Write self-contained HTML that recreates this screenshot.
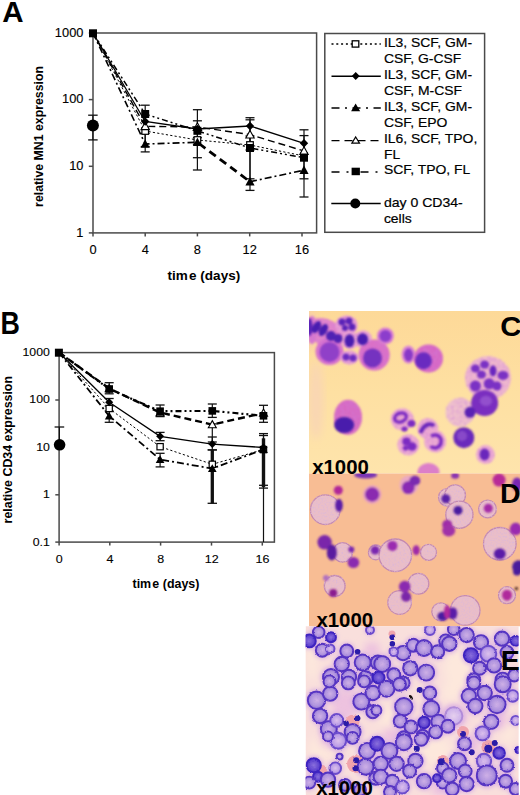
<!DOCTYPE html><html><head><meta charset="utf-8"><style>
html,body{margin:0;padding:0;background:#fff;}body{width:520px;height:795px;overflow:hidden;}
svg{display:block;font-family:"Liberation Sans",sans-serif;}
</style></head><body>
<svg width="520" height="795" viewBox="0 0 520 795">
<defs>
<clipPath id="clipC"><rect x="309" y="311" width="211" height="162.5"/></clipPath>
<clipPath id="clipD"><rect x="309" y="473.5" width="211" height="152.7"/></clipPath>
<clipPath id="clipE"><rect x="305.6" y="626.2" width="213" height="168.8"/></clipPath>
<filter id="blur1" x="-5%" y="-5%" width="110%" height="110%"><feGaussianBlur stdDeviation="0.9"/></filter>
<radialGradient id="gE0"><stop offset="0" stop-color="#ceb0e6"/><stop offset="0.65" stop-color="#b094de"/><stop offset="1" stop-color="#9072d4"/></radialGradient>
<radialGradient id="gE1"><stop offset="0" stop-color="#8a70dc"/><stop offset="0.7" stop-color="#6246d0"/><stop offset="1" stop-color="#4a2ec4"/></radialGradient>
<radialGradient id="gE2"><stop offset="0" stop-color="#dcc0ec"/><stop offset="0.7" stop-color="#bc9ee6"/><stop offset="1" stop-color="#9474dc"/></radialGradient>
<radialGradient id="gE3"><stop offset="0" stop-color="#e6d0ee"/><stop offset="1" stop-color="#c8acea"/></radialGradient>
<linearGradient id="gCbg" x1="0" y1="0" x2="0" y2="1"><stop offset="0" stop-color="#fdd998"/><stop offset="0.5" stop-color="#fee0a2"/><stop offset="1" stop-color="#fee4ac"/></linearGradient>
<filter id="blurE" x="-5%" y="-5%" width="110%" height="110%"><feTurbulence type="fractalNoise" baseFrequency="0.35" numOctaves="2" seed="3" result="n"/><feDisplacementMap in="SourceGraphic" in2="n" scale="2.2" xChannelSelector="R" yChannelSelector="G" result="d"/><feGaussianBlur in="d" stdDeviation="0.65"/></filter>
<filter id="texD" x="-5%" y="-5%" width="110%" height="110%"><feTurbulence type="fractalNoise" baseFrequency="0.55" numOctaves="2" seed="7" result="n"/><feColorMatrix in="n" type="matrix" values="0 0 0 0 0.72  0 0 0 0 0.48  0 0 0 0 0.68  2.6 0 0 0 -1.25" result="c"/><feComposite in="c" in2="SourceAlpha" operator="in" result="t"/><feMerge result="m"><feMergeNode in="SourceGraphic"/><feMergeNode in="t"/></feMerge><feGaussianBlur in="m" stdDeviation="0.7"/></filter>
<filter id="blur2" x="-10%" y="-10%" width="120%" height="120%"><feGaussianBlur stdDeviation="2.2"/></filter>
<filter id="texC" x="-5%" y="-5%" width="110%" height="110%"><feTurbulence type="fractalNoise" baseFrequency="0.6" numOctaves="2" seed="11" result="n"/><feColorMatrix in="n" type="matrix" values="0 0 0 0 0.62  0 0 0 0 0.2  0 0 0 0 0.7  2.8 0 0 0 -1.25" result="c"/><feComposite in="c" in2="SourceAlpha" operator="in" result="t"/><feMerge result="m"><feMergeNode in="SourceGraphic"/><feMergeNode in="t"/></feMerge><feGaussianBlur in="m" stdDeviation="0.8"/></filter>
<filter id="blur3" x="-20%" y="-20%" width="140%" height="140%"><feGaussianBlur stdDeviation="4"/></filter>
</defs>
<rect width="520" height="795" fill="#fff"/>
<text x="2.2" y="21.9" font-size="29.5" font-weight="bold" text-anchor="start" fill="#000" >A</text>
<text transform="translate(0.6 333.7) scale(0.88 1)" font-size="30.5" font-weight="bold" text-anchor="start" fill="#000" >B</text>
<rect x="93.0" y="33.0" width="223.6" height="199.9" fill="none" stroke="#4a4a4a" stroke-width="1.5"/>
<line x1="88.8" y1="33" x2="93" y2="33" stroke="#4a4a4a" stroke-width="1.5" />
<text transform="translate(83.4 36.6) scale(1.07 1)" font-size="12" font-weight="normal" text-anchor="end" fill="#000" stroke="#000" stroke-width="0.12" >1000</text>
<line x1="88.8" y1="99.6" x2="93" y2="99.6" stroke="#4a4a4a" stroke-width="1.5" />
<text transform="translate(83.4 103.2) scale(1.07 1)" font-size="12" font-weight="normal" text-anchor="end" fill="#000" stroke="#000" stroke-width="0.12" >100</text>
<line x1="88.8" y1="166.3" x2="93" y2="166.3" stroke="#4a4a4a" stroke-width="1.5" />
<text transform="translate(83.4 169.9) scale(1.07 1)" font-size="12" font-weight="normal" text-anchor="end" fill="#000" stroke="#000" stroke-width="0.12" >10</text>
<line x1="88.8" y1="232.9" x2="93" y2="232.9" stroke="#4a4a4a" stroke-width="1.5" />
<text transform="translate(83.4 236.5) scale(1.07 1)" font-size="12" font-weight="normal" text-anchor="end" fill="#000" stroke="#000" stroke-width="0.12" >1</text>
<line x1="93" y1="232.9" x2="93" y2="236.4" stroke="#4a4a4a" stroke-width="1.5" />
<text transform="translate(93 253.9) scale(1.07 1)" font-size="12" font-weight="normal" text-anchor="middle" fill="#000" stroke="#000" stroke-width="0.12" >0</text>
<line x1="145.2" y1="232.9" x2="145.2" y2="236.4" stroke="#4a4a4a" stroke-width="1.5" />
<text transform="translate(145.2 253.9) scale(1.07 1)" font-size="12" font-weight="normal" text-anchor="middle" fill="#000" stroke="#000" stroke-width="0.12" >4</text>
<line x1="197.4" y1="232.9" x2="197.4" y2="236.4" stroke="#4a4a4a" stroke-width="1.5" />
<text transform="translate(197.4 253.9) scale(1.07 1)" font-size="12" font-weight="normal" text-anchor="middle" fill="#000" stroke="#000" stroke-width="0.12" >8</text>
<line x1="249.7" y1="232.9" x2="249.7" y2="236.4" stroke="#4a4a4a" stroke-width="1.5" />
<text transform="translate(249.7 253.9) scale(1.07 1)" font-size="12" font-weight="normal" text-anchor="middle" fill="#000" stroke="#000" stroke-width="0.12" >12</text>
<line x1="302" y1="232.9" x2="302" y2="236.4" stroke="#4a4a4a" stroke-width="1.5" />
<text transform="translate(302 253.9) scale(1.07 1)" font-size="12" font-weight="normal" text-anchor="middle" fill="#000" stroke="#000" stroke-width="0.12" >16</text>
<text transform="translate(167.6 280.3) scale(1.04 1)" font-size="13" font-weight="bold">tim<tspan dx="1.2">e (days)</tspan></text>
<text transform="translate(43.3 136.5) rotate(-90)" x="0" y="0" font-size="12.3" font-weight="bold" text-anchor="middle">relative MN1 expression</text>
<line x1="145.2" y1="105.2" x2="145.2" y2="151.9" stroke="#111" stroke-width="1.2" />
<line x1="140.7" y1="105.2" x2="149.7" y2="105.2" stroke="#111" stroke-width="1.3" />
<line x1="140.7" y1="151.9" x2="149.7" y2="151.9" stroke="#111" stroke-width="1.3" />
<line x1="145.2" y1="133.4" x2="145.2" y2="146.6" stroke="#111" stroke-width="1.2" />
<line x1="140.7" y1="133.4" x2="149.7" y2="133.4" stroke="#111" stroke-width="1.3" />
<line x1="140.7" y1="146.6" x2="149.7" y2="146.6" stroke="#111" stroke-width="1.3" />
<line x1="197.4" y1="109.7" x2="197.4" y2="170" stroke="#111" stroke-width="1.2" />
<line x1="192.9" y1="109.7" x2="201.9" y2="109.7" stroke="#111" stroke-width="1.3" />
<line x1="192.9" y1="170" x2="201.9" y2="170" stroke="#111" stroke-width="1.3" />
<line x1="197.4" y1="120.8" x2="197.4" y2="157.7" stroke="#111" stroke-width="1.2" />
<line x1="192.9" y1="120.8" x2="201.9" y2="120.8" stroke="#111" stroke-width="1.3" />
<line x1="192.9" y1="157.7" x2="201.9" y2="157.7" stroke="#111" stroke-width="1.3" />
<line x1="197.4" y1="137.7" x2="197.4" y2="144.6" stroke="#111" stroke-width="1.2" />
<line x1="192.9" y1="137.7" x2="201.9" y2="137.7" stroke="#111" stroke-width="1.3" />
<line x1="192.9" y1="144.6" x2="201.9" y2="144.6" stroke="#111" stroke-width="1.3" />
<line x1="250" y1="117.7" x2="250" y2="190.4" stroke="#111" stroke-width="1.2" />
<line x1="245.5" y1="117.7" x2="254.5" y2="117.7" stroke="#111" stroke-width="1.3" />
<line x1="245.5" y1="190.4" x2="254.5" y2="190.4" stroke="#111" stroke-width="1.3" />
<line x1="250" y1="119.8" x2="250" y2="178.8" stroke="#111" stroke-width="1.2" />
<line x1="245.5" y1="119.8" x2="254.5" y2="119.8" stroke="#111" stroke-width="1.3" />
<line x1="245.5" y1="178.8" x2="254.5" y2="178.8" stroke="#111" stroke-width="1.3" />
<line x1="250" y1="136" x2="250" y2="150" stroke="#111" stroke-width="1.2" />
<line x1="245.5" y1="136" x2="254.5" y2="136" stroke="#111" stroke-width="1.3" />
<line x1="245.5" y1="150" x2="254.5" y2="150" stroke="#111" stroke-width="1.3" />
<line x1="304" y1="129.8" x2="304" y2="197" stroke="#111" stroke-width="1.2" />
<line x1="299.5" y1="129.8" x2="308.5" y2="129.8" stroke="#111" stroke-width="1.3" />
<line x1="299.5" y1="197" x2="308.5" y2="197" stroke="#111" stroke-width="1.3" />
<line x1="304" y1="135.6" x2="304" y2="178.8" stroke="#111" stroke-width="1.2" />
<line x1="299.5" y1="135.6" x2="308.5" y2="135.6" stroke="#111" stroke-width="1.3" />
<line x1="299.5" y1="178.8" x2="308.5" y2="178.8" stroke="#111" stroke-width="1.3" />
<polyline points="93,33 145.2,131 197.4,140 250,145 304,156" fill="none" stroke="#000" stroke-width="1.0" stroke-dasharray="2.2 2.2"/>
<polyline points="93,33 145.2,126.3 197.4,127 250,134.6 304,151" fill="none" stroke="#000" stroke-width="1.4" stroke-dasharray="7 4"/>
<polyline points="93,33 145.2,144 197.4,142.3" fill="none" stroke="#000" stroke-width="1.6" stroke-dasharray="7 3 2 3"/>
<polyline points="250,181.7 304,170.2" fill="none" stroke="#000" stroke-width="1.6" stroke-dasharray="7 3 2 3"/>
<line x1="199" y1="143.5" x2="249" y2="181" stroke="#000" stroke-width="2.8" stroke-dasharray="8 5"/>
<polyline points="93,33 145.2,114 197.4,130.8 250,148 304,157.7" fill="none" stroke="#000" stroke-width="1.5" stroke-dasharray="6 3 2 3 2 3"/>
<polyline points="93,33 145.2,121.5 197.4,129 250,126 304,143.3" fill="none" stroke="#000" stroke-width="1.3"/>
<rect x="141.9" y="127.7" width="6.6" height="6.6" fill="#fff" stroke="#000" stroke-width="1.2"/>
<rect x="194.1" y="136.7" width="6.6" height="6.6" fill="#fff" stroke="#000" stroke-width="1.2"/>
<rect x="246.7" y="141.7" width="6.6" height="6.6" fill="#fff" stroke="#000" stroke-width="1.2"/>
<rect x="300.7" y="152.7" width="6.6" height="6.6" fill="#fff" stroke="#000" stroke-width="1.2"/>
<path d="M145.2 122.1L149.4 129.66L141 129.66Z" fill="#fff" stroke="#000" stroke-width="1.1"/>
<path d="M197.4 122.8L201.6 130.36L193.2 130.36Z" fill="#fff" stroke="#000" stroke-width="1.1"/>
<path d="M250 130.4L254.2 137.96L245.8 137.96Z" fill="#fff" stroke="#000" stroke-width="1.1"/>
<path d="M304 146.8L308.2 154.36L299.8 154.36Z" fill="#fff" stroke="#000" stroke-width="1.1"/>
<path d="M145.2 139.4L149.8 147.68L140.6 147.68Z" fill="#000"/>
<path d="M197.4 137.7L202 145.98L192.8 145.98Z" fill="#000"/>
<path d="M250 177.1L254.6 185.38L245.4 185.38Z" fill="#000"/>
<path d="M304 165.6L308.6 173.88L299.4 173.88Z" fill="#000"/>
<rect x="141.2" y="110" width="8" height="8" fill="#000"/>
<rect x="193.4" y="126.8" width="8" height="8" fill="#000"/>
<rect x="246" y="144" width="8" height="8" fill="#000"/>
<rect x="300" y="153.7" width="8" height="8" fill="#000"/>
<path d="M145.2 117.3L149.4 121.5L145.2 125.7L141 121.5Z" fill="#000"/>
<path d="M197.4 124.8L201.6 129L197.4 133.2L193.2 129Z" fill="#000"/>
<path d="M250 121.8L254.2 126L250 130.2L245.8 126Z" fill="#000"/>
<path d="M304 139.1L308.2 143.3L304 147.5L299.8 143.3Z" fill="#000"/>
<rect x="89" y="29.3" width="8" height="8" fill="#000"/>
<line x1="92.9" y1="115.2" x2="92.9" y2="139.9" stroke="#111" stroke-width="1.2" />
<line x1="88.15" y1="115.2" x2="97.65" y2="115.2" stroke="#111" stroke-width="1.3" />
<line x1="88.15" y1="139.9" x2="97.65" y2="139.9" stroke="#111" stroke-width="1.3" />
<circle cx="92.9" cy="125.4" r="6" fill="#000"/>
<rect x="324.8" y="33.5" width="159.8" height="198.8" fill="#fff" stroke="#4a4a4a" stroke-width="1.5"/>
<line x1="331.5" y1="44.0" x2="380.8" y2="44.0" stroke="#000" stroke-width="1.4" stroke-dasharray="2 2.8"/>
<text transform="translate(383.9 46.7) scale(1.04 1)" font-size="13.4" font-weight="normal" text-anchor="start" fill="#000" stroke="#000" stroke-width="0.2" >IL3, SCF, GM-</text>
<text transform="translate(383.9 63) scale(1.04 1)" font-size="13.4" font-weight="normal" text-anchor="start" fill="#000" stroke="#000" stroke-width="0.2" >CSF, G-CSF</text>
<line x1="331.5" y1="76.2" x2="380.8" y2="76.2" stroke="#000" stroke-width="1.4"/>
<text transform="translate(383.9 79.1) scale(1.04 1)" font-size="13.4" font-weight="normal" text-anchor="start" fill="#000" stroke="#000" stroke-width="0.2" >IL3, SCF, GM-</text>
<text transform="translate(383.9 95.2) scale(1.04 1)" font-size="13.4" font-weight="normal" text-anchor="start" fill="#000" stroke="#000" stroke-width="0.2" >CSF, M-CSF</text>
<line x1="331.5" y1="108.0" x2="380.8" y2="108.0" stroke="#000" stroke-width="1.4" stroke-dasharray="8 5.5 2 5.5"/>
<text transform="translate(383.9 111.1) scale(1.04 1)" font-size="13.4" font-weight="normal" text-anchor="start" fill="#000" stroke="#000" stroke-width="0.2" >IL3, SCF, GM-</text>
<text transform="translate(383.9 127.2) scale(1.04 1)" font-size="13.4" font-weight="normal" text-anchor="start" fill="#000" stroke="#000" stroke-width="0.2" >CSF, EPO</text>
<line x1="331.5" y1="140.6" x2="380.8" y2="140.6" stroke="#000" stroke-width="1.4" stroke-dasharray="8 5"/>
<text transform="translate(383.9 142.8) scale(1.04 1)" font-size="13.4" font-weight="normal" text-anchor="start" fill="#000" stroke="#000" stroke-width="0.2" >IL6, SCF, TPO,</text>
<text transform="translate(383.9 159.4) scale(1.04 1)" font-size="13.4" font-weight="normal" text-anchor="start" fill="#000" stroke="#000" stroke-width="0.2" >FL</text>
<line x1="331.5" y1="172.0" x2="380.8" y2="172.0" stroke="#000" stroke-width="1.4" stroke-dasharray="8 7 2 5 2 5"/>
<text transform="translate(383.9 174.3) scale(1.04 1)" font-size="13.4" font-weight="normal" text-anchor="start" fill="#000" stroke="#000" stroke-width="0.2" >SCF, TPO, FL</text>
<rect x="352.2" y="40.8" width="6.6" height="6.3" fill="#fff" stroke="#000" stroke-width="1.3"/>
<path d="M355.7 72.1L359.7 76.1L355.7 80L351.8 76.1Z" fill="#000"/>
<path d="M355.6 103.4L360.2 111.2L351.1 111.2Z" fill="#000"/>
<path d="M355.7 137L359.5 143.1L351.9 143.1Z" fill="#fff" stroke="#000" stroke-width="1.2"/>
<rect x="351.6" y="167.7" width="8.3" height="7.5" fill="#000"/>
<line x1="331.3" y1="203.5" x2="380.7" y2="203.5" stroke="#000" stroke-width="1.4"/>
<circle cx="355.3" cy="203.5" r="5" fill="#000"/>
<text transform="translate(383.9 207) scale(1.05 1)" font-size="13.4" font-weight="normal" text-anchor="start" fill="#000" stroke="#000" stroke-width="0.2" >day 0 CD34-</text>
<text transform="translate(383.9 223) scale(1.04 1)" font-size="13.4" font-weight="normal" text-anchor="start" fill="#000" stroke="#000" stroke-width="0.2" >cells</text>
<rect x="59.1" y="352.6" width="215.3" height="189.5" fill="none" stroke="#4a4a4a" stroke-width="1.5"/>
<line x1="55.3" y1="352.6" x2="59.1" y2="352.6" stroke="#4a4a4a" stroke-width="1.5" />
<text transform="translate(49.8 356) scale(1.06 1)" font-size="11.6" font-weight="normal" text-anchor="end" fill="#000" stroke="#000" stroke-width="0.12" >1000</text>
<line x1="55.3" y1="400" x2="59.1" y2="400" stroke="#4a4a4a" stroke-width="1.5" />
<text transform="translate(49.8 403.4) scale(1.06 1)" font-size="11.6" font-weight="normal" text-anchor="end" fill="#000" stroke="#000" stroke-width="0.12" >100</text>
<line x1="55.3" y1="447.4" x2="59.1" y2="447.4" stroke="#4a4a4a" stroke-width="1.5" />
<text transform="translate(49.8 450.8) scale(1.06 1)" font-size="11.6" font-weight="normal" text-anchor="end" fill="#000" stroke="#000" stroke-width="0.12" >10</text>
<line x1="55.3" y1="494.8" x2="59.1" y2="494.8" stroke="#4a4a4a" stroke-width="1.5" />
<text transform="translate(49.8 498.2) scale(1.06 1)" font-size="11.6" font-weight="normal" text-anchor="end" fill="#000" stroke="#000" stroke-width="0.12" >1</text>
<line x1="55.3" y1="542.1" x2="59.1" y2="542.1" stroke="#4a4a4a" stroke-width="1.5" />
<text transform="translate(49.8 545.5) scale(1.06 1)" font-size="11.6" font-weight="normal" text-anchor="end" fill="#000" stroke="#000" stroke-width="0.12" >0.1</text>
<line x1="59.1" y1="542.1" x2="59.1" y2="545.6" stroke="#4a4a4a" stroke-width="1.5" />
<text transform="translate(59.3 563.4) scale(1.06 1)" font-size="11.8" font-weight="normal" text-anchor="middle" fill="#000" stroke="#000" stroke-width="0.12" >0</text>
<line x1="109.8" y1="542.1" x2="109.8" y2="545.6" stroke="#4a4a4a" stroke-width="1.5" />
<text transform="translate(110 563.4) scale(1.06 1)" font-size="11.8" font-weight="normal" text-anchor="middle" fill="#000" stroke="#000" stroke-width="0.12" >4</text>
<line x1="160.6" y1="542.1" x2="160.6" y2="545.6" stroke="#4a4a4a" stroke-width="1.5" />
<text transform="translate(160.8 563.4) scale(1.06 1)" font-size="11.8" font-weight="normal" text-anchor="middle" fill="#000" stroke="#000" stroke-width="0.12" >8</text>
<line x1="211.5" y1="542.1" x2="211.5" y2="545.6" stroke="#4a4a4a" stroke-width="1.5" />
<text transform="translate(211.7 563.4) scale(1.06 1)" font-size="11.8" font-weight="normal" text-anchor="middle" fill="#000" stroke="#000" stroke-width="0.12" >12</text>
<line x1="262.3" y1="542.1" x2="262.3" y2="545.6" stroke="#4a4a4a" stroke-width="1.5" />
<text transform="translate(262.5 563.4) scale(1.06 1)" font-size="11.8" font-weight="normal" text-anchor="middle" fill="#000" stroke="#000" stroke-width="0.12" >16</text>
<text transform="translate(132.5 588.2) scale(1.02 1)" font-size="12.2" font-weight="bold">tim<tspan dx="1.2">e (days)</tspan></text>
<text transform="translate(12.1 449.7) rotate(-90)" x="0" y="0" font-size="12.4" font-weight="bold" text-anchor="middle">relative CD34 expression</text>
<line x1="109.2" y1="382.7" x2="109.2" y2="393.8" stroke="#111" stroke-width="1.2" />
<line x1="104.7" y1="382.7" x2="113.7" y2="382.7" stroke="#111" stroke-width="1.3" />
<line x1="104.7" y1="393.8" x2="113.7" y2="393.8" stroke="#111" stroke-width="1.3" />
<line x1="109.2" y1="398.5" x2="109.2" y2="406" stroke="#111" stroke-width="1.2" />
<line x1="104.7" y1="398.5" x2="113.7" y2="398.5" stroke="#111" stroke-width="1.3" />
<line x1="104.7" y1="406" x2="113.7" y2="406" stroke="#111" stroke-width="1.3" />
<line x1="109.2" y1="411" x2="109.2" y2="422.3" stroke="#111" stroke-width="1.2" />
<line x1="104.7" y1="411" x2="113.7" y2="411" stroke="#111" stroke-width="1.3" />
<line x1="104.7" y1="422.3" x2="113.7" y2="422.3" stroke="#111" stroke-width="1.3" />
<line x1="160.1" y1="405" x2="160.1" y2="416.6" stroke="#111" stroke-width="1.2" />
<line x1="155.6" y1="405" x2="164.6" y2="405" stroke="#111" stroke-width="1.3" />
<line x1="155.6" y1="416.6" x2="164.6" y2="416.6" stroke="#111" stroke-width="1.3" />
<line x1="160.1" y1="432.4" x2="160.1" y2="440.7" stroke="#111" stroke-width="1.2" />
<line x1="155.6" y1="432.4" x2="164.6" y2="432.4" stroke="#111" stroke-width="1.3" />
<line x1="155.6" y1="440.7" x2="164.6" y2="440.7" stroke="#111" stroke-width="1.3" />
<line x1="160.1" y1="453.3" x2="160.1" y2="466.9" stroke="#111" stroke-width="1.2" />
<line x1="155.6" y1="453.3" x2="164.6" y2="453.3" stroke="#111" stroke-width="1.3" />
<line x1="155.6" y1="466.9" x2="164.6" y2="466.9" stroke="#111" stroke-width="1.3" />
<line x1="212.3" y1="404" x2="212.3" y2="417.4" stroke="#111" stroke-width="1.2" />
<line x1="207.8" y1="404" x2="216.8" y2="404" stroke="#111" stroke-width="1.3" />
<line x1="207.8" y1="417.4" x2="216.8" y2="417.4" stroke="#111" stroke-width="1.3" />
<line x1="212.3" y1="423.9" x2="212.3" y2="442" stroke="#111" stroke-width="1.2" />
<line x1="207.8" y1="423.9" x2="216.8" y2="423.9" stroke="#111" stroke-width="1.3" />
<line x1="207.8" y1="442" x2="216.8" y2="442" stroke="#111" stroke-width="1.3" />
<line x1="212.3" y1="437" x2="212.3" y2="449.9" stroke="#111" stroke-width="1.2" />
<line x1="207.8" y1="437" x2="216.8" y2="437" stroke="#111" stroke-width="1.3" />
<line x1="207.8" y1="449.9" x2="216.8" y2="449.9" stroke="#111" stroke-width="1.3" />
<line x1="263.5" y1="405.3" x2="263.5" y2="422.3" stroke="#111" stroke-width="1.2" />
<line x1="259" y1="405.3" x2="268" y2="405.3" stroke="#111" stroke-width="1.3" />
<line x1="259" y1="422.3" x2="268" y2="422.3" stroke="#111" stroke-width="1.3" />
<line x1="263.5" y1="433.6" x2="263.5" y2="488.1" stroke="#111" stroke-width="1.2" />
<line x1="259" y1="433.6" x2="268" y2="433.6" stroke="#111" stroke-width="1.3" />
<line x1="259" y1="488.1" x2="268" y2="488.1" stroke="#111" stroke-width="1.3" />
<line x1="263.5" y1="435.5" x2="263.5" y2="485.3" stroke="#111" stroke-width="1.2" />
<line x1="259" y1="435.5" x2="268" y2="435.5" stroke="#111" stroke-width="1.3" />
<line x1="259" y1="485.3" x2="268" y2="485.3" stroke="#111" stroke-width="1.3" />
<line x1="212.3" y1="449.9" x2="212.3" y2="503.3" stroke="#111" stroke-width="3.3" />
<line x1="207.6" y1="449.9" x2="217" y2="449.9" stroke="#111" stroke-width="1.3" />
<line x1="207.6" y1="503.3" x2="217" y2="503.3" stroke="#111" stroke-width="1.3" />
<line x1="263.5" y1="438.3" x2="263.5" y2="487.2" stroke="#111" stroke-width="3.4" />
<line x1="263.5" y1="488" x2="263.5" y2="542.1" stroke="#111" stroke-width="1.2" />
<polyline points="59,352.5 109.2,408.5 160.1,446.7 212.3,464.3 263.5,449.6" fill="none" stroke="#000" stroke-width="1.0" stroke-dasharray="2.2 2.2"/>
<polyline points="59,352.5 109.2,388.5 160.1,412.5 212.3,424.6 263.5,413" fill="none" stroke="#000" stroke-width="2.4" stroke-dasharray="7 4"/>
<polyline points="59,352.5 109.2,416 160.1,459.5 212.3,468.6 263.5,449.4" fill="none" stroke="#000" stroke-width="1.8" stroke-dasharray="7 3 2 3"/>
<polyline points="59,352.5 109.2,389 160.1,411.2 212.3,410.9 263.5,415.8" fill="none" stroke="#000" stroke-width="2.1" stroke-dasharray="6 3 2 3 2 3"/>
<polyline points="59,352.5 109.2,402.3 160.1,436.3 212.3,444.1 263.5,447.5" fill="none" stroke="#000" stroke-width="1.3"/>
<rect x="106.06" y="405.37" width="6.27" height="6.27" fill="#fff" stroke="#000" stroke-width="1.2"/>
<rect x="156.97" y="443.56" width="6.27" height="6.27" fill="#fff" stroke="#000" stroke-width="1.2"/>
<rect x="209.17" y="461.17" width="6.27" height="6.27" fill="#fff" stroke="#000" stroke-width="1.2"/>
<rect x="260.37" y="446.47" width="6.27" height="6.27" fill="#fff" stroke="#000" stroke-width="1.2"/>
<path d="M109.2 384.51L113.19 391.69L105.21 391.69Z" fill="#fff" stroke="#000" stroke-width="1.1"/>
<path d="M160.1 408.51L164.09 415.69L156.11 415.69Z" fill="#fff" stroke="#000" stroke-width="1.1"/>
<path d="M212.3 420.61L216.29 427.79L208.31 427.79Z" fill="#fff" stroke="#000" stroke-width="1.1"/>
<path d="M263.5 409.01L267.49 416.19L259.51 416.19Z" fill="#fff" stroke="#000" stroke-width="1.1"/>
<path d="M109.2 411.63L113.57 419.5L104.83 419.5Z" fill="#000"/>
<path d="M160.1 455.13L164.47 463L155.73 463Z" fill="#000"/>
<path d="M212.3 464.23L216.67 472.1L207.93 472.1Z" fill="#000"/>
<path d="M263.5 445.03L267.87 452.9L259.13 452.9Z" fill="#000"/>
<rect x="105.4" y="385.2" width="7.6" height="7.6" fill="#000"/>
<rect x="156.3" y="407.4" width="7.6" height="7.6" fill="#000"/>
<rect x="208.5" y="407.1" width="7.6" height="7.6" fill="#000"/>
<rect x="259.7" y="412" width="7.6" height="7.6" fill="#000"/>
<path d="M109.2 398.31L113.19 402.3L109.2 406.29L105.21 402.3Z" fill="#000"/>
<path d="M160.1 432.31L164.09 436.3L160.1 440.29L156.11 436.3Z" fill="#000"/>
<path d="M212.3 440.11L216.29 444.1L212.3 448.09L208.31 444.1Z" fill="#000"/>
<path d="M263.5 443.51L267.49 447.5L263.5 451.49L259.51 447.5Z" fill="#000"/>
<rect x="54.9" y="348.7" width="8" height="8" fill="#000"/>
<line x1="59.4" y1="427" x2="59.4" y2="444" stroke="#111" stroke-width="1.2" />
<line x1="54.6" y1="427" x2="64.2" y2="427" stroke="#111" stroke-width="1.3" />
<circle cx="59.6" cy="444.8" r="5.8" fill="#000"/>
<g clip-path="url(#clipC)">
<rect x="309" y="311" width="211" height="163" fill="url(#gCbg)"/>
<g filter="url(#blur3)">
<ellipse cx="316" cy="400" rx="7" ry="40" fill="#f9d6b4"/>
<ellipse cx="309" cy="330" rx="6" ry="20" fill="#f5c8b0"/>
</g>
<g filter="url(#texC)">
<ellipse cx="326" cy="333" rx="19" ry="13.5" fill="#e486c8" transform="rotate(30 326 333)"/>
<ellipse cx="346.5" cy="325.4" rx="11" ry="10" fill="#eca0d2"/>
<ellipse cx="350" cy="340" rx="9" ry="9" fill="#eea8d2"/>
<ellipse cx="363" cy="339.2" rx="9" ry="9" fill="#eea8d2"/>
<ellipse cx="329.5" cy="351.5" rx="14" ry="13.5" fill="#d870cc"/>
<ellipse cx="349.5" cy="357.5" rx="9" ry="7" fill="#eaa4d4"/>
<ellipse cx="374.2" cy="355" rx="15.5" ry="15.5" fill="#dc6ec4"/>
<ellipse cx="385.4" cy="336" rx="8.5" ry="8.5" fill="#de82d0"/>
<ellipse cx="408.5" cy="354.6" rx="7" ry="9" fill="#e08cd0"/>
<ellipse cx="428.5" cy="358.5" rx="14.5" ry="14" fill="#d866c2"/>
<ellipse cx="488" cy="378" rx="23" ry="22" fill="#f2bccc"/>
<ellipse cx="460" cy="412.3" rx="14.5" ry="14.5" fill="#f2c6ca"/>
<ellipse cx="402.2" cy="419.2" rx="11.5" ry="11" fill="#f0b0d0"/>
<ellipse cx="408.3" cy="444.8" rx="11" ry="10.5" fill="#f0b0d0"/>
<ellipse cx="427.8" cy="428.6" rx="10.5" ry="10.5" fill="#f0b0d0"/>
<ellipse cx="435.2" cy="441.5" rx="11" ry="11" fill="#f0b0d0"/>
<ellipse cx="485.4" cy="454.6" rx="9.5" ry="9.5" fill="#f0b0d0"/>
<ellipse cx="348" cy="417.3" rx="14" ry="17.5" fill="#d868c0"/>
<ellipse cx="428.5" cy="472" rx="11" ry="9" fill="#e080c4"/>
<ellipse cx="312" cy="330" rx="5" ry="14" fill="#d878cc"/>
</g>
<g filter="url(#blur1)">
<ellipse cx="309.5" cy="327" rx="3" ry="9" fill="#5a22b8"/>
<ellipse cx="316.5" cy="327" rx="3.8" ry="6.5" fill="#4a1cb0" transform="rotate(30 316.5 327)"/>
<ellipse cx="323.4" cy="330" rx="3.8" ry="6.5" fill="#4a1cb0" transform="rotate(30 323.4 330)"/>
<ellipse cx="331" cy="336" rx="5" ry="5" fill="#5020b4"/>
<ellipse cx="338" cy="338.5" rx="4.5" ry="4.5" fill="#5020b4"/>
<ellipse cx="342" cy="322" rx="3.5" ry="3.5" fill="#5a24b8"/>
<ellipse cx="349" cy="321" rx="3.5" ry="3.5" fill="#5a24b8"/>
<ellipse cx="352" cy="327" rx="3.5" ry="3.5" fill="#5a24b8"/>
<ellipse cx="345" cy="328" rx="3" ry="3" fill="#5a24b8"/>
<ellipse cx="349.5" cy="340.8" rx="5" ry="6.5" fill="#4a1cb0"/>
<ellipse cx="362.6" cy="339.2" rx="5.5" ry="6" fill="#4a1cb0"/>
<ellipse cx="329.5" cy="352" rx="10" ry="10" fill="#9040c8"/>
<ellipse cx="346" cy="357" rx="3.5" ry="3.5" fill="#6a2cc0"/>
<ellipse cx="353" cy="358" rx="3.5" ry="3.5" fill="#6a2cc0"/>
<ellipse cx="372.5" cy="358" rx="9.5" ry="9.5" fill="#7430c0"/>
<ellipse cx="385.4" cy="336" rx="6" ry="6" fill="#8c3ecc"/>
<ellipse cx="408.5" cy="355" rx="4.5" ry="6.5" fill="#8838c8"/>
<ellipse cx="423.5" cy="360.8" rx="8.5" ry="8.5" fill="#6a2cc0"/>
<ellipse cx="475.4" cy="368.5" rx="4.5" ry="4" fill="#7a30c4"/>
<ellipse cx="484.6" cy="364.6" rx="4.5" ry="4" fill="#7a30c4"/>
<ellipse cx="481.5" cy="374.6" rx="4.5" ry="4" fill="#7a30c4"/>
<ellipse cx="493" cy="370.8" rx="3.5" ry="5.5" fill="#6a28c0"/>
<ellipse cx="503" cy="375.4" rx="5.5" ry="4.5" fill="#7a30c4"/>
<ellipse cx="475.4" cy="386" rx="5.5" ry="5.5" fill="#7a30c4"/>
<ellipse cx="489.2" cy="383.8" rx="5.5" ry="5.5" fill="#7a30c4"/>
<ellipse cx="497" cy="386" rx="4.5" ry="4.5" fill="#7a30c4"/>
<ellipse cx="484.6" cy="403" rx="13.5" ry="13" fill="#7a2ec0"/>
<ellipse cx="470" cy="412.3" rx="5.5" ry="5.5" fill="#5a22b4"/>
<ellipse cx="463.8" cy="437.7" rx="10.5" ry="10.5" fill="#6a2abc"/>
<ellipse cx="484.6" cy="454.6" rx="5" ry="6" fill="#6a28bc"/>
<ellipse cx="344.2" cy="425" rx="10" ry="8" fill="#4a1eac"/>
<ellipse cx="486" cy="401" rx="6" ry="5" fill="#9a58d0" opacity="0.8"/>
<ellipse cx="462" cy="436" rx="5" ry="5" fill="#9050cc" opacity="0.8"/>
<ellipse cx="400.5" cy="417.5" rx="6" ry="4.3" fill="none" stroke="#7c2ac2" stroke-width="3.4" transform="rotate(-20 400.5 417.5)"/>
<ellipse cx="411.5" cy="423.5" rx="4" ry="3.6" fill="#7c2ac2"/>
<ellipse cx="404.5" cy="429" rx="3" ry="2.6" fill="#7c2ac2"/>
<ellipse cx="406.5" cy="441.5" rx="4.2" ry="4" fill="#7c2ac2"/>
<ellipse cx="412" cy="446.5" rx="4.6" ry="4.2" fill="#7c2ac2"/>
<ellipse cx="405.5" cy="448" rx="2.6" ry="2.6" fill="#7c2ac2"/>
<path d="M420.5 433 Q423 426 428 424.5 Q432 423.5 434 426" fill="none" stroke="#6a26bc" stroke-width="4"/>
<path d="M431 436 Q438 433 441 439 Q442 446 436 448 Q432 448 431 446" fill="none" stroke="#7c2ac2" stroke-width="3.6"/>
</g>
</g>
<g clip-path="url(#clipD)">
<rect x="309" y="473" width="211" height="154" fill="#f8bd94"/>
<g filter="url(#texD)">
<ellipse cx="325.3" cy="509.7" rx="14.8" ry="14.8" fill="#eabec8" stroke="#c48ab0" stroke-width="1.3"/>
<ellipse cx="342.6" cy="552.4" rx="9.8" ry="9.8" fill="#eabec8" stroke="#c48ab0" stroke-width="1.3"/>
<ellipse cx="375.8" cy="552.4" rx="7.4" ry="7.4" fill="#eabec8" stroke="#c48ab0" stroke-width="1.3"/>
<ellipse cx="395.3" cy="555.3" rx="16.3" ry="16.3" fill="#eabec8" stroke="#c48ab0" stroke-width="1.3"/>
<ellipse cx="428.5" cy="552.4" rx="8" ry="8" fill="#eabec8" stroke="#c48ab0" stroke-width="1.3"/>
<ellipse cx="447.2" cy="497.4" rx="8.7" ry="8.7" fill="#eabec8" stroke="#c48ab0" stroke-width="1.3"/>
<ellipse cx="455.1" cy="495.2" rx="10.4" ry="10.4" fill="#eabec8" stroke="#c48ab0" stroke-width="1.3"/>
<ellipse cx="459.4" cy="514.7" rx="13.6" ry="13.6" fill="#eabec8" stroke="#c48ab0" stroke-width="1.3"/>
<ellipse cx="487.5" cy="509" rx="8.9" ry="8.9" fill="#eabec8" stroke="#c48ab0" stroke-width="1.3"/>
<ellipse cx="499.8" cy="543.8" rx="16.3" ry="16.3" fill="#eabec8" stroke="#c48ab0" stroke-width="1.3"/>
<ellipse cx="334.7" cy="585.9" rx="10.4" ry="10.4" fill="#eabec8" stroke="#c48ab0" stroke-width="1.3"/>
<ellipse cx="418.4" cy="583.7" rx="10.4" ry="10.4" fill="#eabec8" stroke="#c48ab0" stroke-width="1.3"/>
<ellipse cx="399.6" cy="602.5" rx="11.8" ry="11.8" fill="#eabec8" stroke="#c48ab0" stroke-width="1.3"/>
<ellipse cx="465.2" cy="610.4" rx="14.8" ry="14.8" fill="#eabec8" stroke="#c48ab0" stroke-width="1.3"/>
<ellipse cx="507" cy="595.2" rx="8.5" ry="8.5" fill="#eabec8" stroke="#c48ab0" stroke-width="1.3"/>
<ellipse cx="440.7" cy="611.8" rx="8.9" ry="8.9" fill="#eabec8" stroke="#c48ab0" stroke-width="1.3"/>
</g>
<g filter="url(#blur1)">
<ellipse cx="372.2" cy="494.5" rx="9.2" ry="9.2" fill="#e8a0c0"/>
<ellipse cx="409" cy="485" rx="9.5" ry="9.5" fill="#eaa8c4"/>
<ellipse cx="338.3" cy="490.2" rx="4.5" ry="4.5" fill="#b0289a"/>
<ellipse cx="372.2" cy="494.5" rx="7.2" ry="7.2" fill="#8a2cb0"/>
<ellipse cx="339" cy="505.3" rx="3.8" ry="6.5" fill="#5a1ea8"/>
<ellipse cx="365.7" cy="475" rx="11.5" ry="3.6" fill="#7a34b4"/>
<ellipse cx="408.3" cy="487.6" rx="6.5" ry="6.5" fill="#8a2cb4"/>
<ellipse cx="414.8" cy="480.8" rx="5.5" ry="5" fill="#7a2cb0"/>
<ellipse cx="445.8" cy="498.8" rx="4.5" ry="4.5" fill="#5a22a8"/>
<ellipse cx="447.2" cy="524.8" rx="5" ry="5" fill="#9a30a8"/>
<ellipse cx="455.1" cy="475.8" rx="4" ry="3" fill="#8a34b0"/>
<ellipse cx="499.1" cy="480.1" rx="6.5" ry="6.5" fill="#b82a98"/>
<ellipse cx="517" cy="484.4" rx="5" ry="7" fill="#7a28b4"/>
<ellipse cx="458" cy="510.4" rx="4.5" ry="4.5" fill="#4a1aa0"/>
<ellipse cx="488.3" cy="508.2" rx="4.5" ry="4.5" fill="#a42ca8"/>
<ellipse cx="447.9" cy="526.3" rx="4" ry="4" fill="#a42ca8"/>
<ellipse cx="515.7" cy="527.7" rx="5" ry="5" fill="#7a28b4"/>
<ellipse cx="324.6" cy="542.3" rx="7.2" ry="7.2" fill="#7a26aa"/>
<ellipse cx="331.8" cy="552.4" rx="5" ry="8" fill="#5a1aa0"/>
<ellipse cx="351.3" cy="549.5" rx="3" ry="3" fill="#7a28b0"/>
<ellipse cx="353.4" cy="562.5" rx="5.8" ry="5.5" fill="#8a2cb0"/>
<ellipse cx="375.1" cy="550.2" rx="4.3" ry="4.3" fill="#7a28b0"/>
<ellipse cx="392.4" cy="545.9" rx="5" ry="5" fill="#9a2ab0"/>
<ellipse cx="416.2" cy="550.2" rx="3.6" ry="5" fill="#a02ca8"/>
<ellipse cx="448.7" cy="530.5" rx="6.5" ry="6" fill="#a030a8"/>
<ellipse cx="499.8" cy="553.8" rx="6" ry="5.5" fill="#5a1ea8"/>
<ellipse cx="515.7" cy="529.3" rx="6" ry="6" fill="#9a2cb0"/>
<ellipse cx="518.6" cy="566.8" rx="6.5" ry="6.5" fill="#4a1c9c"/>
<ellipse cx="333.2" cy="593.1" rx="4" ry="4" fill="#8a1e90"/>
<ellipse cx="326" cy="578" rx="3" ry="3" fill="#b070c0"/>
<ellipse cx="404.7" cy="586.6" rx="5.8" ry="5.8" fill="#8a2cb0"/>
<ellipse cx="406.1" cy="596.7" rx="5" ry="5" fill="#7a26a8"/>
<ellipse cx="442.9" cy="616.2" rx="5.5" ry="4.5" fill="#4a1aa0"/>
<ellipse cx="451.6" cy="613.3" rx="3.6" ry="5.8" fill="#5a1ea8"/>
<ellipse cx="453.7" cy="613.3" rx="3.6" ry="5.8" fill="#5a1ea8"/>
<ellipse cx="507" cy="595.2" rx="5" ry="5.5" fill="#b02a9c"/>
<ellipse cx="516.4" cy="588.5" rx="1.5" ry="1.5" fill="#301010"/>
<ellipse cx="517" cy="571.4" rx="4" ry="4" fill="#4a1c9c"/>
<ellipse cx="447" cy="612" rx="3" ry="7" fill="#b02a9c"/>
</g>
</g>
<g clip-path="url(#clipE)">
<rect x="305.5" y="625.5" width="215" height="170" fill="#f9dfdc"/>
<g filter="url(#blur3)">
<ellipse cx="458" cy="668" rx="14" ry="20" fill="#fde8dc"/>
<ellipse cx="344" cy="705" rx="12" ry="12" fill="#fde8dc"/>
<ellipse cx="322" cy="748" rx="14" ry="12" fill="#fde8dc"/>
<ellipse cx="435" cy="750" rx="16" ry="14" fill="#fde8dc"/>
<ellipse cx="452" cy="692" rx="10" ry="12" fill="#fde8dc"/>
<ellipse cx="508" cy="732" rx="8" ry="12" fill="#fde8dc"/>
<ellipse cx="388" cy="720" rx="8" ry="14" fill="#fde8dc"/>
<ellipse cx="312" cy="660" rx="6" ry="20" fill="#fde8dc"/>
<ellipse cx="345" cy="705" rx="14" ry="16" fill="#e8b8e0" opacity="0.8"/>
<ellipse cx="425" cy="728" rx="12" ry="10" fill="#e8b8e0" opacity="0.8"/>
<ellipse cx="455" cy="716" rx="12" ry="12" fill="#e8b8e0" opacity="0.8"/>
<ellipse cx="470" cy="745" rx="10" ry="10" fill="#e8b8e0" opacity="0.8"/>
<ellipse cx="392" cy="735" rx="10" ry="8" fill="#e8b8e0" opacity="0.8"/>
<ellipse cx="330" cy="740" rx="10" ry="8" fill="#e8b8e0" opacity="0.8"/>
<ellipse cx="500" cy="720" rx="8" ry="10" fill="#e8b8e0" opacity="0.8"/>
<ellipse cx="418" cy="655" rx="10" ry="8" fill="#e8b8e0" opacity="0.8"/>
<ellipse cx="372" cy="650" rx="8" ry="8" fill="#e8b8e0" opacity="0.8"/>
<ellipse cx="440" cy="790" rx="10" ry="6" fill="#e8b8e0" opacity="0.8"/>
</g>
<g filter="url(#blur2)">
<ellipse cx="318.7" cy="632.2" rx="7.54" ry="7.54" fill="#dab2e2"/>
<ellipse cx="309.3" cy="640.9" rx="8.45" ry="8.45" fill="#dab2e2"/>
<ellipse cx="331" cy="637.3" rx="6.5" ry="6.5" fill="#dab2e2"/>
<ellipse cx="322.3" cy="650.2" rx="8.45" ry="8.45" fill="#dab2e2"/>
<ellipse cx="330.2" cy="648.8" rx="5.59" ry="5.59" fill="#dab2e2"/>
<ellipse cx="346.8" cy="651" rx="8.45" ry="8.45" fill="#dab2e2"/>
<ellipse cx="341.8" cy="664" rx="9.36" ry="9.36" fill="#dab2e2"/>
<ellipse cx="362.7" cy="662.5" rx="10.4" ry="10.4" fill="#dab2e2"/>
<ellipse cx="377.8" cy="662.5" rx="9.1" ry="9.1" fill="#dab2e2"/>
<ellipse cx="331" cy="677" rx="10.4" ry="10.4" fill="#dab2e2"/>
<ellipse cx="349" cy="677" rx="9.36" ry="9.36" fill="#dab2e2"/>
<ellipse cx="365.6" cy="678.4" rx="9.36" ry="9.36" fill="#dab2e2"/>
<ellipse cx="403.1" cy="653.1" rx="9.36" ry="9.36" fill="#dab2e2"/>
<ellipse cx="393.8" cy="651.7" rx="5.59" ry="5.59" fill="#dab2e2"/>
<ellipse cx="413.2" cy="645.2" rx="8.45" ry="8.45" fill="#dab2e2"/>
<ellipse cx="424" cy="648" rx="10.4" ry="10.4" fill="#dab2e2"/>
<ellipse cx="437.7" cy="651.7" rx="8.45" ry="8.45" fill="#dab2e2"/>
<ellipse cx="445.7" cy="640.9" rx="8.45" ry="8.45" fill="#dab2e2"/>
<ellipse cx="382.2" cy="664" rx="10.4" ry="10.4" fill="#dab2e2"/>
<ellipse cx="410.3" cy="668.3" rx="9.36" ry="9.36" fill="#dab2e2"/>
<ellipse cx="426.2" cy="672.6" rx="10.4" ry="10.4" fill="#dab2e2"/>
<ellipse cx="393.8" cy="674.8" rx="8.45" ry="8.45" fill="#dab2e2"/>
<ellipse cx="378.6" cy="677.6" rx="7.8" ry="7.8" fill="#dab2e2"/>
<ellipse cx="403.1" cy="683" rx="8.45" ry="8.45" fill="#dab2e2"/>
<ellipse cx="453.7" cy="629.3" rx="7.54" ry="7.54" fill="#dab2e2"/>
<ellipse cx="466.6" cy="635.1" rx="9.36" ry="9.36" fill="#dab2e2"/>
<ellipse cx="449.3" cy="643.8" rx="9.36" ry="9.36" fill="#dab2e2"/>
<ellipse cx="481" cy="642.3" rx="9.36" ry="9.36" fill="#dab2e2"/>
<ellipse cx="502" cy="638.7" rx="9.36" ry="9.36" fill="#dab2e2"/>
<ellipse cx="515.7" cy="640.9" rx="6.5" ry="6.5" fill="#dab2e2"/>
<ellipse cx="471" cy="655.3" rx="9.36" ry="9.36" fill="#dab2e2"/>
<ellipse cx="488.3" cy="653.8" rx="10.4" ry="10.4" fill="#dab2e2"/>
<ellipse cx="507" cy="652.4" rx="8.45" ry="8.45" fill="#dab2e2"/>
<ellipse cx="494" cy="665.4" rx="9.36" ry="9.36" fill="#dab2e2"/>
<ellipse cx="479.6" cy="668.3" rx="8.45" ry="8.45" fill="#dab2e2"/>
<ellipse cx="473.8" cy="679.8" rx="8.45" ry="8.45" fill="#dab2e2"/>
<ellipse cx="502.7" cy="679.8" rx="9.36" ry="9.36" fill="#dab2e2"/>
<ellipse cx="514.2" cy="675.5" rx="7.8" ry="7.8" fill="#dab2e2"/>
<ellipse cx="430" cy="630" rx="6.5" ry="6.5" fill="#dab2e2"/>
<ellipse cx="370" cy="630" rx="5.2" ry="5.2" fill="#dab2e2"/>
<ellipse cx="316.5" cy="700.2" rx="11.31" ry="11.31" fill="#dab2e2"/>
<ellipse cx="330.2" cy="693.7" rx="9.36" ry="9.36" fill="#dab2e2"/>
<ellipse cx="320.1" cy="716" rx="9.36" ry="9.36" fill="#dab2e2"/>
<ellipse cx="328.8" cy="729" rx="10.4" ry="10.4" fill="#dab2e2"/>
<ellipse cx="336.7" cy="720.4" rx="8.45" ry="8.45" fill="#dab2e2"/>
<ellipse cx="348.3" cy="682.9" rx="8.45" ry="8.45" fill="#dab2e2"/>
<ellipse cx="329.5" cy="681.4" rx="7.8" ry="7.8" fill="#dab2e2"/>
<ellipse cx="364.1" cy="681.4" rx="7.8" ry="7.8" fill="#dab2e2"/>
<ellipse cx="361.3" cy="701.6" rx="10.4" ry="10.4" fill="#dab2e2"/>
<ellipse cx="372.8" cy="693" rx="9.36" ry="9.36" fill="#dab2e2"/>
<ellipse cx="372.8" cy="711.7" rx="8.45" ry="8.45" fill="#dab2e2"/>
<ellipse cx="352.6" cy="732" rx="10.4" ry="10.4" fill="#dab2e2"/>
<ellipse cx="386.5" cy="688.7" rx="10.4" ry="10.4" fill="#dab2e2"/>
<ellipse cx="399.5" cy="684.3" rx="8.45" ry="8.45" fill="#dab2e2"/>
<ellipse cx="376.4" cy="710.3" rx="6.5" ry="6.5" fill="#dab2e2"/>
<ellipse cx="403.8" cy="706.7" rx="11.31" ry="11.31" fill="#dab2e2"/>
<ellipse cx="431.3" cy="708.8" rx="10.4" ry="10.4" fill="#dab2e2"/>
<ellipse cx="429.8" cy="693" rx="8.45" ry="8.45" fill="#dab2e2"/>
<ellipse cx="400.2" cy="721.1" rx="8.45" ry="8.45" fill="#dab2e2"/>
<ellipse cx="411" cy="726.9" rx="8.45" ry="8.45" fill="#dab2e2"/>
<ellipse cx="424" cy="722.5" rx="7.54" ry="7.54" fill="#dab2e2"/>
<ellipse cx="438.5" cy="721.8" rx="9.36" ry="9.36" fill="#dab2e2"/>
<ellipse cx="435.6" cy="731.9" rx="8.45" ry="8.45" fill="#dab2e2"/>
<ellipse cx="403.8" cy="737.7" rx="8.45" ry="8.45" fill="#dab2e2"/>
<ellipse cx="422.6" cy="736.3" rx="8.45" ry="8.45" fill="#dab2e2"/>
<ellipse cx="473.8" cy="682.9" rx="8.45" ry="8.45" fill="#dab2e2"/>
<ellipse cx="502.7" cy="684.3" rx="10.4" ry="10.4" fill="#dab2e2"/>
<ellipse cx="468.8" cy="695.9" rx="9.36" ry="9.36" fill="#dab2e2"/>
<ellipse cx="484.7" cy="693" rx="9.36" ry="9.36" fill="#dab2e2"/>
<ellipse cx="475.3" cy="706" rx="9.36" ry="9.36" fill="#dab2e2"/>
<ellipse cx="496.9" cy="704.5" rx="11.31" ry="11.31" fill="#dab2e2"/>
<ellipse cx="512.8" cy="695.9" rx="7.54" ry="7.54" fill="#dab2e2"/>
<ellipse cx="491.2" cy="721.8" rx="9.36" ry="9.36" fill="#dab2e2"/>
<ellipse cx="453.7" cy="716" rx="11.31" ry="11.31" fill="#dab2e2"/>
<ellipse cx="447.9" cy="726.2" rx="8.45" ry="8.45" fill="#dab2e2"/>
<ellipse cx="482.5" cy="733.4" rx="9.1" ry="9.1" fill="#dab2e2"/>
<ellipse cx="515.7" cy="720.4" rx="5.85" ry="5.85" fill="#dab2e2"/>
<ellipse cx="338.2" cy="740.8" rx="10.4" ry="10.4" fill="#dab2e2"/>
<ellipse cx="352.6" cy="737.9" rx="7.8" ry="7.8" fill="#dab2e2"/>
<ellipse cx="328" cy="736.4" rx="6.5" ry="6.5" fill="#dab2e2"/>
<ellipse cx="367" cy="750.9" rx="10.4" ry="10.4" fill="#dab2e2"/>
<ellipse cx="377.1" cy="743.7" rx="9.1" ry="9.1" fill="#dab2e2"/>
<ellipse cx="365.6" cy="766.7" rx="10.4" ry="10.4" fill="#dab2e2"/>
<ellipse cx="375.7" cy="778.3" rx="8.45" ry="8.45" fill="#dab2e2"/>
<ellipse cx="313.7" cy="765.3" rx="9.36" ry="9.36" fill="#dab2e2"/>
<ellipse cx="335.3" cy="768.2" rx="7.54" ry="7.54" fill="#dab2e2"/>
<ellipse cx="318" cy="776.8" rx="6.5" ry="6.5" fill="#dab2e2"/>
<ellipse cx="328" cy="779.7" rx="9.36" ry="9.36" fill="#dab2e2"/>
<ellipse cx="309.3" cy="782.6" rx="7.8" ry="7.8" fill="#dab2e2"/>
<ellipse cx="339.6" cy="756.6" rx="3.9" ry="3.9" fill="#dab2e2"/>
<ellipse cx="389.4" cy="750.9" rx="10.4" ry="10.4" fill="#dab2e2"/>
<ellipse cx="403.8" cy="742.2" rx="10.4" ry="10.4" fill="#dab2e2"/>
<ellipse cx="421.2" cy="739.3" rx="8.45" ry="8.45" fill="#dab2e2"/>
<ellipse cx="380.8" cy="763.8" rx="9.36" ry="9.36" fill="#dab2e2"/>
<ellipse cx="396.6" cy="763.8" rx="9.36" ry="9.36" fill="#dab2e2"/>
<ellipse cx="415.4" cy="761" rx="9.36" ry="9.36" fill="#dab2e2"/>
<ellipse cx="409.6" cy="771" rx="8.45" ry="8.45" fill="#dab2e2"/>
<ellipse cx="380.8" cy="776.8" rx="9.36" ry="9.36" fill="#dab2e2"/>
<ellipse cx="392.3" cy="781.2" rx="8.45" ry="8.45" fill="#dab2e2"/>
<ellipse cx="424" cy="781.2" rx="9.36" ry="9.36" fill="#dab2e2"/>
<ellipse cx="402.4" cy="787" rx="8.45" ry="8.45" fill="#dab2e2"/>
<ellipse cx="442.8" cy="768.2" rx="7.54" ry="7.54" fill="#dab2e2"/>
<ellipse cx="442.8" cy="782.6" rx="7.8" ry="7.8" fill="#dab2e2"/>
<ellipse cx="437" cy="778.3" rx="5.2" ry="5.2" fill="#dab2e2"/>
<ellipse cx="390" cy="792" rx="7.8" ry="7.8" fill="#dab2e2"/>
<ellipse cx="360" cy="790" rx="7.8" ry="7.8" fill="#dab2e2"/>
<ellipse cx="345" cy="785" rx="7.8" ry="7.8" fill="#dab2e2"/>
<ellipse cx="464.5" cy="743.7" rx="8.45" ry="8.45" fill="#dab2e2"/>
<ellipse cx="499.1" cy="753" rx="7.54" ry="7.54" fill="#dab2e2"/>
<ellipse cx="458" cy="761" rx="10.4" ry="10.4" fill="#dab2e2"/>
<ellipse cx="484" cy="761" rx="9.36" ry="9.36" fill="#dab2e2"/>
<ellipse cx="486.8" cy="775.4" rx="13" ry="13" fill="#dab2e2"/>
<ellipse cx="507" cy="765.3" rx="8.45" ry="8.45" fill="#dab2e2"/>
<ellipse cx="505.6" cy="781.2" rx="8.45" ry="8.45" fill="#dab2e2"/>
<ellipse cx="465.2" cy="771" rx="8.45" ry="8.45" fill="#dab2e2"/>
<ellipse cx="449.3" cy="775.4" rx="9.36" ry="9.36" fill="#dab2e2"/>
<ellipse cx="466.6" cy="784" rx="9.36" ry="9.36" fill="#dab2e2"/>
<ellipse cx="452.2" cy="789" rx="8.45" ry="8.45" fill="#dab2e2"/>
<ellipse cx="515.7" cy="789" rx="7.8" ry="7.8" fill="#dab2e2"/>
<ellipse cx="518.5" cy="750" rx="3.9" ry="3.9" fill="#dab2e2"/>
</g>
<g filter="url(#blurE)">
<ellipse cx="352.6" cy="721.8" rx="7" ry="7" fill="#f0a4ac"/>
<ellipse cx="442.8" cy="761" rx="6" ry="6" fill="#f0a4ac"/>
<ellipse cx="356" cy="764" rx="9" ry="9" fill="#f0a4ac"/>
<ellipse cx="463" cy="732" rx="6" ry="6" fill="#f0a4ac"/>
<ellipse cx="488.3" cy="747" rx="7" ry="7" fill="#f0a4ac"/>
<ellipse cx="392" cy="634" rx="3.5" ry="3.5" fill="#f0a4ac"/>
<ellipse cx="322" cy="770" rx="5" ry="5" fill="#f0a4ac"/>
<ellipse cx="318.7" cy="632.2" rx="5.8" ry="5.8" fill="url(#gE0)" stroke="#5634c2" stroke-width="1.9"/>
<ellipse cx="309.3" cy="640.9" rx="6.5" ry="6.5" fill="url(#gE1)" stroke="#3e24c0" stroke-width="1.9"/>
<ellipse cx="331" cy="637.3" rx="5" ry="5" fill="url(#gE1)" stroke="#3e24c0" stroke-width="1.9"/>
<ellipse cx="322.3" cy="650.2" rx="6.5" ry="6.5" fill="url(#gE0)" stroke="#5634c2" stroke-width="1.9"/>
<ellipse cx="330.2" cy="648.8" rx="4.3" ry="4.3" fill="url(#gE2)" stroke="#6c4ccc" stroke-width="1.9"/>
<ellipse cx="346.8" cy="651" rx="6.5" ry="6.5" fill="url(#gE0)" stroke="#5634c2" stroke-width="1.9"/>
<ellipse cx="341.8" cy="664" rx="7.2" ry="7.2" fill="url(#gE0)" stroke="#5634c2" stroke-width="1.9"/>
<ellipse cx="362.7" cy="662.5" rx="8" ry="8" fill="url(#gE0)" stroke="#5634c2" stroke-width="1.9"/>
<ellipse cx="377.8" cy="662.5" rx="7" ry="7" fill="url(#gE0)" stroke="#5634c2" stroke-width="1.9"/>
<ellipse cx="331" cy="677" rx="8" ry="8" fill="url(#gE0)" stroke="#5634c2" stroke-width="1.9"/>
<ellipse cx="349" cy="677" rx="7.2" ry="7.2" fill="url(#gE0)" stroke="#5634c2" stroke-width="1.9"/>
<ellipse cx="365.6" cy="678.4" rx="7.2" ry="7.2" fill="url(#gE0)" stroke="#5634c2" stroke-width="1.9"/>
<ellipse cx="403.1" cy="653.1" rx="7.2" ry="7.2" fill="url(#gE0)" stroke="#5634c2" stroke-width="1.9"/>
<ellipse cx="393.8" cy="651.7" rx="4.3" ry="4.3" fill="url(#gE2)" stroke="#6c4ccc" stroke-width="1.9"/>
<ellipse cx="413.2" cy="645.2" rx="6.5" ry="6.5" fill="url(#gE0)" stroke="#5634c2" stroke-width="1.9"/>
<ellipse cx="424" cy="648" rx="8" ry="8" fill="url(#gE0)" stroke="#5634c2" stroke-width="1.9"/>
<ellipse cx="437.7" cy="651.7" rx="6.5" ry="6.5" fill="url(#gE0)" stroke="#5634c2" stroke-width="1.9"/>
<ellipse cx="445.7" cy="640.9" rx="6.5" ry="6.5" fill="url(#gE0)" stroke="#5634c2" stroke-width="1.9"/>
<ellipse cx="382.2" cy="664" rx="8" ry="8" fill="url(#gE0)" stroke="#5634c2" stroke-width="1.9"/>
<ellipse cx="410.3" cy="668.3" rx="7.2" ry="7.2" fill="url(#gE0)" stroke="#5634c2" stroke-width="1.9"/>
<ellipse cx="426.2" cy="672.6" rx="8" ry="8" fill="url(#gE0)" stroke="#5634c2" stroke-width="1.9"/>
<ellipse cx="393.8" cy="674.8" rx="6.5" ry="6.5" fill="url(#gE0)" stroke="#5634c2" stroke-width="1.9"/>
<ellipse cx="378.6" cy="677.6" rx="6" ry="6" fill="url(#gE1)" stroke="#3e24c0" stroke-width="1.9"/>
<ellipse cx="403.1" cy="683" rx="6.5" ry="6.5" fill="url(#gE0)" stroke="#5634c2" stroke-width="1.9"/>
<ellipse cx="453.7" cy="629.3" rx="5.8" ry="5.8" fill="url(#gE0)" stroke="#5634c2" stroke-width="1.9"/>
<ellipse cx="466.6" cy="635.1" rx="7.2" ry="7.2" fill="url(#gE0)" stroke="#5634c2" stroke-width="1.9"/>
<ellipse cx="449.3" cy="643.8" rx="7.2" ry="7.2" fill="url(#gE0)" stroke="#5634c2" stroke-width="1.9"/>
<ellipse cx="481" cy="642.3" rx="7.2" ry="7.2" fill="url(#gE0)" stroke="#5634c2" stroke-width="1.9"/>
<ellipse cx="502" cy="638.7" rx="7.2" ry="7.2" fill="url(#gE0)" stroke="#5634c2" stroke-width="1.9"/>
<ellipse cx="515.7" cy="640.9" rx="5" ry="5" fill="url(#gE1)" stroke="#3e24c0" stroke-width="1.9"/>
<ellipse cx="471" cy="655.3" rx="7.2" ry="7.2" fill="url(#gE1)" stroke="#3e24c0" stroke-width="1.9"/>
<ellipse cx="488.3" cy="653.8" rx="8" ry="8" fill="url(#gE2)" stroke="#6c4ccc" stroke-width="1.9"/>
<ellipse cx="507" cy="652.4" rx="6.5" ry="6.5" fill="url(#gE0)" stroke="#5634c2" stroke-width="1.9"/>
<ellipse cx="494" cy="665.4" rx="7.2" ry="7.2" fill="url(#gE0)" stroke="#5634c2" stroke-width="1.9"/>
<ellipse cx="479.6" cy="668.3" rx="6.5" ry="6.5" fill="url(#gE0)" stroke="#5634c2" stroke-width="1.9"/>
<ellipse cx="473.8" cy="679.8" rx="6.5" ry="6.5" fill="url(#gE0)" stroke="#5634c2" stroke-width="1.9"/>
<ellipse cx="502.7" cy="679.8" rx="7.2" ry="7.2" fill="url(#gE0)" stroke="#5634c2" stroke-width="1.9"/>
<ellipse cx="514.2" cy="675.5" rx="6" ry="6" fill="url(#gE0)" stroke="#5634c2" stroke-width="1.9"/>
<ellipse cx="430" cy="630" rx="5" ry="5" fill="url(#gE2)" stroke="#6c4ccc" stroke-width="1.9"/>
<ellipse cx="370" cy="630" rx="4" ry="4" fill="url(#gE2)" stroke="#6c4ccc" stroke-width="1.9"/>
<ellipse cx="316.5" cy="700.2" rx="8.7" ry="8.7" fill="url(#gE0)" stroke="#5634c2" stroke-width="1.9"/>
<ellipse cx="330.2" cy="693.7" rx="7.2" ry="7.2" fill="url(#gE0)" stroke="#5634c2" stroke-width="1.9"/>
<ellipse cx="320.1" cy="716" rx="7.2" ry="7.2" fill="url(#gE0)" stroke="#5634c2" stroke-width="1.9"/>
<ellipse cx="328.8" cy="729" rx="8" ry="8" fill="url(#gE0)" stroke="#5634c2" stroke-width="1.9"/>
<ellipse cx="336.7" cy="720.4" rx="6.5" ry="6.5" fill="url(#gE2)" stroke="#6c4ccc" stroke-width="1.9"/>
<ellipse cx="348.3" cy="682.9" rx="6.5" ry="6.5" fill="url(#gE0)" stroke="#5634c2" stroke-width="1.9"/>
<ellipse cx="329.5" cy="681.4" rx="6" ry="6" fill="url(#gE0)" stroke="#5634c2" stroke-width="1.9"/>
<ellipse cx="364.1" cy="681.4" rx="6" ry="6" fill="url(#gE0)" stroke="#5634c2" stroke-width="1.9"/>
<ellipse cx="361.3" cy="701.6" rx="8" ry="8" fill="url(#gE0)" stroke="#5634c2" stroke-width="1.9"/>
<ellipse cx="372.8" cy="693" rx="7.2" ry="7.2" fill="url(#gE0)" stroke="#5634c2" stroke-width="1.9"/>
<ellipse cx="372.8" cy="711.7" rx="6.5" ry="6.5" fill="url(#gE0)" stroke="#5634c2" stroke-width="1.9"/>
<ellipse cx="352.6" cy="732" rx="8" ry="8" fill="url(#gE0)" stroke="#5634c2" stroke-width="1.9"/>
<ellipse cx="386.5" cy="688.7" rx="8" ry="8" fill="url(#gE0)" stroke="#5634c2" stroke-width="1.9"/>
<ellipse cx="399.5" cy="684.3" rx="6.5" ry="6.5" fill="url(#gE0)" stroke="#5634c2" stroke-width="1.9"/>
<ellipse cx="376.4" cy="710.3" rx="5" ry="5" fill="url(#gE0)" stroke="#5634c2" stroke-width="1.9"/>
<ellipse cx="403.8" cy="706.7" rx="8.7" ry="8.7" fill="url(#gE0)" stroke="#5634c2" stroke-width="1.9"/>
<ellipse cx="431.3" cy="708.8" rx="8" ry="8" fill="url(#gE0)" stroke="#5634c2" stroke-width="1.9"/>
<ellipse cx="429.8" cy="693" rx="6.5" ry="6.5" fill="url(#gE0)" stroke="#5634c2" stroke-width="1.9"/>
<ellipse cx="400.2" cy="721.1" rx="6.5" ry="6.5" fill="url(#gE0)" stroke="#5634c2" stroke-width="1.9"/>
<ellipse cx="411" cy="726.9" rx="6.5" ry="6.5" fill="url(#gE0)" stroke="#5634c2" stroke-width="1.9"/>
<ellipse cx="424" cy="722.5" rx="5.8" ry="5.8" fill="url(#gE1)" stroke="#3e24c0" stroke-width="1.9"/>
<ellipse cx="438.5" cy="721.8" rx="7.2" ry="7.2" fill="url(#gE0)" stroke="#5634c2" stroke-width="1.9"/>
<ellipse cx="435.6" cy="731.9" rx="6.5" ry="6.5" fill="url(#gE0)" stroke="#5634c2" stroke-width="1.9"/>
<ellipse cx="403.8" cy="737.7" rx="6.5" ry="6.5" fill="url(#gE0)" stroke="#5634c2" stroke-width="1.9"/>
<ellipse cx="422.6" cy="736.3" rx="6.5" ry="6.5" fill="url(#gE0)" stroke="#5634c2" stroke-width="1.9"/>
<ellipse cx="473.8" cy="682.9" rx="6.5" ry="6.5" fill="url(#gE0)" stroke="#5634c2" stroke-width="1.9"/>
<ellipse cx="502.7" cy="684.3" rx="8" ry="8" fill="url(#gE0)" stroke="#5634c2" stroke-width="1.9"/>
<ellipse cx="468.8" cy="695.9" rx="7.2" ry="7.2" fill="url(#gE0)" stroke="#5634c2" stroke-width="1.9"/>
<ellipse cx="484.7" cy="693" rx="7.2" ry="7.2" fill="url(#gE0)" stroke="#5634c2" stroke-width="1.9"/>
<ellipse cx="475.3" cy="706" rx="7.2" ry="7.2" fill="url(#gE0)" stroke="#5634c2" stroke-width="1.9"/>
<ellipse cx="496.9" cy="704.5" rx="8.7" ry="8.7" fill="url(#gE0)" stroke="#5634c2" stroke-width="1.9"/>
<ellipse cx="512.8" cy="695.9" rx="5.8" ry="5.8" fill="url(#gE2)" stroke="#6c4ccc" stroke-width="1.9"/>
<ellipse cx="491.2" cy="721.8" rx="7.2" ry="7.2" fill="url(#gE0)" stroke="#5634c2" stroke-width="1.9"/>
<ellipse cx="453.7" cy="716" rx="8.7" ry="8.7" fill="url(#gE3)" stroke="#b08ad8" stroke-width="1.9"/>
<ellipse cx="447.9" cy="726.2" rx="6.5" ry="6.5" fill="url(#gE0)" stroke="#5634c2" stroke-width="1.9"/>
<ellipse cx="482.5" cy="733.4" rx="7" ry="7" fill="url(#gE2)" stroke="#6c4ccc" stroke-width="1.9"/>
<ellipse cx="515.7" cy="720.4" rx="4.5" ry="4.5" fill="url(#gE2)" stroke="#6c4ccc" stroke-width="1.9"/>
<ellipse cx="338.2" cy="740.8" rx="8" ry="8" fill="url(#gE2)" stroke="#6c4ccc" stroke-width="1.9"/>
<ellipse cx="352.6" cy="737.9" rx="6" ry="6" fill="url(#gE0)" stroke="#5634c2" stroke-width="1.9"/>
<ellipse cx="328" cy="736.4" rx="5" ry="5" fill="url(#gE0)" stroke="#5634c2" stroke-width="1.9"/>
<ellipse cx="367" cy="750.9" rx="8" ry="8" fill="url(#gE0)" stroke="#5634c2" stroke-width="1.9"/>
<ellipse cx="377.1" cy="743.7" rx="7" ry="7" fill="url(#gE1)" stroke="#3e24c0" stroke-width="1.9"/>
<ellipse cx="365.6" cy="766.7" rx="8" ry="8" fill="url(#gE0)" stroke="#5634c2" stroke-width="1.9"/>
<ellipse cx="375.7" cy="778.3" rx="6.5" ry="6.5" fill="url(#gE0)" stroke="#5634c2" stroke-width="1.9"/>
<ellipse cx="313.7" cy="765.3" rx="7.2" ry="7.2" fill="url(#gE1)" stroke="#3e24c0" stroke-width="1.9"/>
<ellipse cx="335.3" cy="768.2" rx="5.8" ry="5.8" fill="url(#gE2)" stroke="#6c4ccc" stroke-width="1.9"/>
<ellipse cx="318" cy="776.8" rx="5" ry="5" fill="url(#gE1)" stroke="#3e24c0" stroke-width="1.9"/>
<ellipse cx="328" cy="779.7" rx="7.2" ry="7.2" fill="url(#gE0)" stroke="#5634c2" stroke-width="1.9"/>
<ellipse cx="309.3" cy="782.6" rx="6" ry="6" fill="url(#gE0)" stroke="#5634c2" stroke-width="1.9"/>
<ellipse cx="339.6" cy="756.6" rx="3" ry="3" fill="url(#gE0)" stroke="#5634c2" stroke-width="1.9"/>
<ellipse cx="389.4" cy="750.9" rx="8" ry="8" fill="url(#gE0)" stroke="#5634c2" stroke-width="1.9"/>
<ellipse cx="403.8" cy="742.2" rx="8" ry="8" fill="url(#gE0)" stroke="#5634c2" stroke-width="1.9"/>
<ellipse cx="421.2" cy="739.3" rx="6.5" ry="6.5" fill="url(#gE0)" stroke="#5634c2" stroke-width="1.9"/>
<ellipse cx="380.8" cy="763.8" rx="7.2" ry="7.2" fill="url(#gE0)" stroke="#5634c2" stroke-width="1.9"/>
<ellipse cx="396.6" cy="763.8" rx="7.2" ry="7.2" fill="url(#gE0)" stroke="#5634c2" stroke-width="1.9"/>
<ellipse cx="415.4" cy="761" rx="7.2" ry="7.2" fill="url(#gE0)" stroke="#5634c2" stroke-width="1.9"/>
<ellipse cx="409.6" cy="771" rx="6.5" ry="6.5" fill="url(#gE0)" stroke="#5634c2" stroke-width="1.9"/>
<ellipse cx="380.8" cy="776.8" rx="7.2" ry="7.2" fill="url(#gE0)" stroke="#5634c2" stroke-width="1.9"/>
<ellipse cx="392.3" cy="781.2" rx="6.5" ry="6.5" fill="url(#gE0)" stroke="#5634c2" stroke-width="1.9"/>
<ellipse cx="424" cy="781.2" rx="7.2" ry="7.2" fill="url(#gE0)" stroke="#5634c2" stroke-width="1.9"/>
<ellipse cx="402.4" cy="787" rx="6.5" ry="6.5" fill="url(#gE2)" stroke="#6c4ccc" stroke-width="1.9"/>
<ellipse cx="442.8" cy="768.2" rx="5.8" ry="5.8" fill="url(#gE0)" stroke="#5634c2" stroke-width="1.9"/>
<ellipse cx="442.8" cy="782.6" rx="6" ry="6" fill="url(#gE0)" stroke="#5634c2" stroke-width="1.9"/>
<ellipse cx="437" cy="778.3" rx="4" ry="4" fill="url(#gE1)" stroke="#3e24c0" stroke-width="1.9"/>
<ellipse cx="390" cy="792" rx="6" ry="6" fill="url(#gE0)" stroke="#5634c2" stroke-width="1.9"/>
<ellipse cx="360" cy="790" rx="6" ry="6" fill="url(#gE0)" stroke="#5634c2" stroke-width="1.9"/>
<ellipse cx="345" cy="785" rx="6" ry="6" fill="url(#gE0)" stroke="#5634c2" stroke-width="1.9"/>
<ellipse cx="464.5" cy="743.7" rx="6.5" ry="6.5" fill="url(#gE0)" stroke="#5634c2" stroke-width="1.9"/>
<ellipse cx="499.1" cy="753" rx="5.8" ry="5.8" fill="url(#gE1)" stroke="#3e24c0" stroke-width="1.9"/>
<ellipse cx="458" cy="761" rx="8" ry="8" fill="url(#gE0)" stroke="#5634c2" stroke-width="1.9"/>
<ellipse cx="484" cy="761" rx="7.2" ry="7.2" fill="url(#gE2)" stroke="#6c4ccc" stroke-width="1.9"/>
<ellipse cx="486.8" cy="775.4" rx="10" ry="10" fill="url(#gE0)" stroke="#5634c2" stroke-width="1.9"/>
<ellipse cx="507" cy="765.3" rx="6.5" ry="6.5" fill="url(#gE0)" stroke="#5634c2" stroke-width="1.9"/>
<ellipse cx="505.6" cy="781.2" rx="6.5" ry="6.5" fill="url(#gE0)" stroke="#5634c2" stroke-width="1.9"/>
<ellipse cx="465.2" cy="771" rx="6.5" ry="6.5" fill="url(#gE0)" stroke="#5634c2" stroke-width="1.9"/>
<ellipse cx="449.3" cy="775.4" rx="7.2" ry="7.2" fill="url(#gE0)" stroke="#5634c2" stroke-width="1.9"/>
<ellipse cx="466.6" cy="784" rx="7.2" ry="7.2" fill="url(#gE0)" stroke="#5634c2" stroke-width="1.9"/>
<ellipse cx="452.2" cy="789" rx="6.5" ry="6.5" fill="url(#gE0)" stroke="#5634c2" stroke-width="1.9"/>
<ellipse cx="515.7" cy="789" rx="6" ry="6" fill="url(#gE0)" stroke="#5634c2" stroke-width="1.9"/>
<ellipse cx="518.5" cy="750" rx="3" ry="3" fill="url(#gE1)" stroke="#3e24c0" stroke-width="1.9"/>
<ellipse cx="357.6" cy="651.7" rx="2.8" ry="2.8" fill="#2c1aa8"/>
<ellipse cx="392.3" cy="637.3" rx="2.8" ry="2.8" fill="#2c1aa8"/>
<ellipse cx="392.3" cy="643.8" rx="2.8" ry="2.8" fill="#2c1aa8"/>
<ellipse cx="419.7" cy="690.1" rx="3" ry="3" fill="#2c1aa8"/>
<ellipse cx="346.1" cy="723.3" rx="2.8" ry="2.8" fill="#2c1aa8"/>
<ellipse cx="357.6" cy="718.2" rx="2.8" ry="2.8" fill="#2c1aa8"/>
<ellipse cx="416.8" cy="748.7" rx="3" ry="3" fill="#2c1aa8"/>
<ellipse cx="441.3" cy="761.7" rx="3.5" ry="3.5" fill="#2c1aa8"/>
<ellipse cx="356.2" cy="760.2" rx="3" ry="3" fill="#2c1aa8"/>
<ellipse cx="355.5" cy="768.2" rx="3" ry="3" fill="#2c1aa8"/>
<ellipse cx="471.7" cy="752.3" rx="3" ry="3" fill="#2c1aa8"/>
<ellipse cx="488.3" cy="748.7" rx="4" ry="4" fill="#2c1aa8"/>
<ellipse cx="494.8" cy="743" rx="3" ry="3" fill="#2c1aa8"/>
<ellipse cx="463" cy="734" rx="3" ry="3" fill="#2c1aa8"/>
<ellipse cx="411.2" cy="697.4" rx="1.3" ry="2.6" fill="#181010" transform="rotate(-30 411.2 697.4)"/>
</g>
</g>
<text transform="translate(500.2 335.8) scale(1.05 1)" font-size="28" font-weight="bold" text-anchor="start" fill="#000" >C</text>
<text x="312.2" y="473.6" font-size="20.4" font-weight="bold" text-anchor="start" fill="#000" >x1000</text>
<text transform="translate(500 503.3) scale(1.02 1)" font-size="28" font-weight="bold" text-anchor="start" fill="#000" >D</text>
<text x="316.4" y="627" font-size="20.4" font-weight="bold" text-anchor="start" fill="#000" >x1000</text>
<text transform="translate(500.8 670.4) scale(1.02 1)" font-size="28" font-weight="bold" text-anchor="start" fill="#000" >E</text>
<text x="316.2" y="794.6" font-size="20.4" font-weight="bold" text-anchor="start" fill="#000" >x1000</text>
</svg></body></html>
